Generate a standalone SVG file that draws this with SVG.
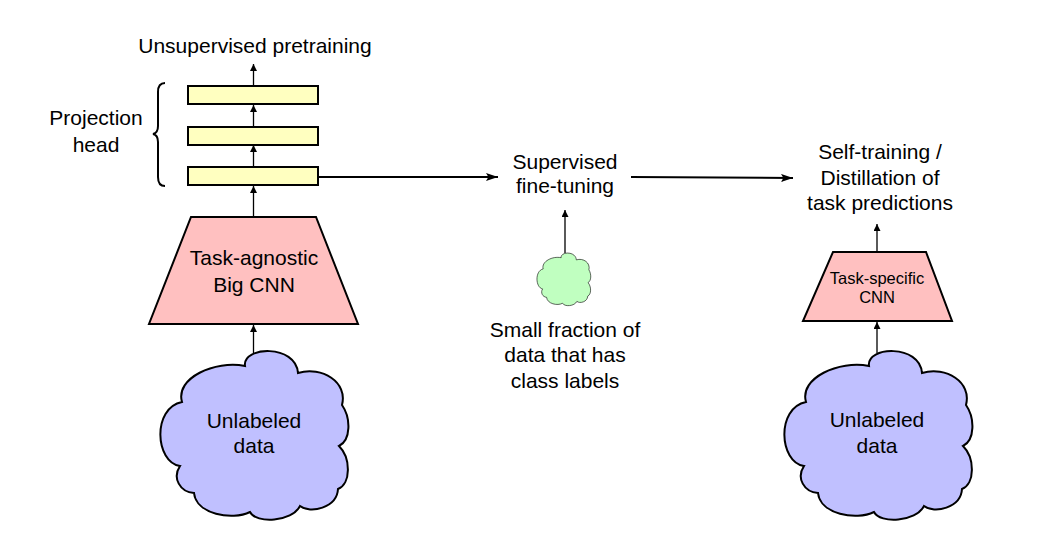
<svg xmlns="http://www.w3.org/2000/svg" width="1061" height="539" viewBox="0 0 1061 539">
<defs>
<marker id="ah" viewBox="0 0 10 10" refX="10" refY="5" markerWidth="7" markerHeight="7" markerUnits="userSpaceOnUse" orient="auto"><path d="M0,0 L10,5 L0,10 Z" fill="#000"/></marker>
<marker id="ahb" viewBox="0 0 10 10" refX="10" refY="5" markerWidth="12" markerHeight="8" markerUnits="userSpaceOnUse" orient="auto" preserveAspectRatio="none"><path d="M0,0 L10,5 L0,10 L2,5 Z" fill="#000"/></marker>
<path id="cloud" d="M245,366 C242,346 296,344 298,373 C322,366 348,382 342,405 C351,418 351,440 339,446 C351,458 351,484 338,489 C337,508 310,514 300,506 C292,522 256,524 250,512 C232,521 196,514 194,493 C180,492 172,478 180,466 C155,462 152,408 182,402 C175,378 215,360 245,366 Z"/>
</defs>
<style>
text{font-family:"Liberation Sans",Arial,sans-serif;font-size:21px;fill:#000;text-anchor:middle}
.sm{font-size:16.5px}
.bar{fill:#ffffc0;stroke:#000;stroke-width:2}
.trap{fill:#ffc0c0;stroke:#000;stroke-width:2}
.cl{stroke:#000;stroke-width:2;vector-effect:non-scaling-stroke}
.v{stroke:#000;stroke-width:1.3;fill:none;marker-end:url(#ah)}
.h{stroke:#000;stroke-width:2;fill:none;marker-end:url(#ahb)}
</style>
<rect width="1061" height="539" fill="#fff"/>
<g id="connectors">
<line class="v" x1="253.5" y1="86" x2="253.5" y2="64"/>
<line class="v" x1="253.5" y1="127" x2="253.5" y2="105"/>
<line class="v" x1="253.5" y1="167" x2="253.5" y2="145"/>
<line class="v" x1="253.5" y1="217" x2="253.5" y2="186"/>
<line class="v" x1="253.5" y1="353" x2="253.5" y2="325"/>
<line class="h" x1="319" y1="177" x2="498" y2="177"/>
<line class="h" x1="631" y1="177" x2="793" y2="178"/>
<line class="v" x1="565" y1="253" x2="565" y2="210"/>
<line class="v" x1="877" y1="252" x2="877" y2="224"/>
<line class="v" x1="877" y1="353" x2="877" y2="322"/>
</g>
<g id="title"><text x="255" y="53">Unsupervised pretraining</text></g>
<g id="projection-label">
<path d="M165,83 Q158,83 158,92 L158,126 Q158,133 153,134 Q158,135 158,142 L158,177 Q158,186 165,186" fill="none" stroke="#000" stroke-width="2"/>
<text x="96" y="125">Projection</text><text x="96" y="152">head</text>
</g>
<g id="bar1"><rect class="bar" x="188" y="86" width="130" height="18"/></g>
<g id="bar2"><rect class="bar" x="188" y="127" width="130" height="18"/></g>
<g id="bar3"><rect class="bar" x="188" y="167" width="130" height="18"/></g>
<g id="big-cnn"><path class="trap" d="M191,217 L316,217 L358,324 L149,324 Z"/><text x="254" y="265">Task-agnostic</text><text x="254" y="292">Big CNN</text></g>
<g id="unlabeled-left"><use href="#cloud" class="cl" fill="#c0c0ff"/><text x="254" y="428">Unlabeled</text><text x="254" y="453">data</text></g>
<g id="finetune"><text x="565" y="169">Supervised</text><text x="565" y="193">fine-tuning</text></g>
<g id="labeled-data"><use href="#cloud" class="cl" fill="#c0ffc0" transform="translate(491.1,143.5) scale(0.286,0.312)"/><text x="565" y="337">Small fraction of</text><text x="565" y="362">data that has</text><text x="565" y="388">class labels</text></g>
<g id="distill"><text x="880" y="159">Self-training /</text><text x="880" y="185">Distillation of</text><text x="880" y="210">task predictions</text></g>
<g id="task-cnn"><path class="trap" d="M833,252 L926,252 L952,321 L803,321 Z"/><text class="sm" x="877" y="284">Task-specific</text><text class="sm" x="877" y="303">CNN</text></g>
<g id="unlabeled-right"><use href="#cloud" class="cl" fill="#c0c0ff" transform="translate(624,0)"/><text x="877" y="427">Unlabeled</text><text x="877" y="453">data</text></g>
</svg>
